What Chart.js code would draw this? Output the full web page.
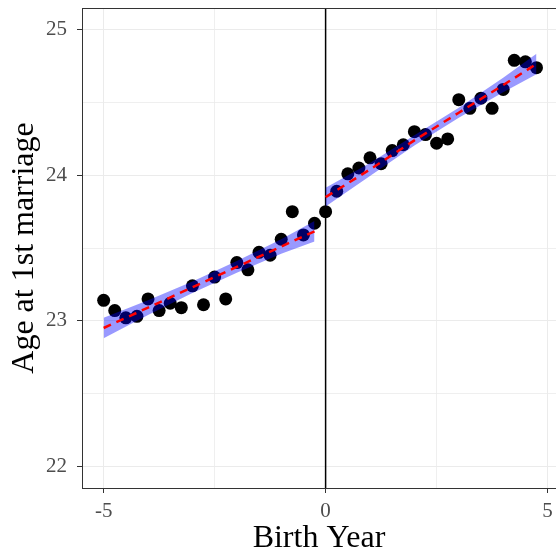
<!DOCTYPE html>
<html>
<head>
<meta charset="utf-8">
<script src="https://cdn.jsdelivr.net/npm/chart.js@4/dist/chart.umd.min.js"></script>
<style>
  html, body { margin: 0; padding: 0; background: #ffffff; }
  #wrap { width: 556px; height: 558px; }
</style>
</head>
<body>
<div id="wrap"><canvas id="c" width="556" height="558"></canvas></div>
<script>
// Birth year (relative to cutoff) and mean age at first marriage
const birthYear = [-5, -4.75, -4.5, -4.25, -4, -3.75, -3.5, -3.25, -3, -2.75,
                   -2.5, -2.25, -2, -1.75, -1.5, -1.25, -1, -0.75, -0.5, -0.25,
                   0, 0.25, 0.5, 0.75, 1, 1.25, 1.5, 1.75, 2, 2.25,
                   2.5, 2.75, 3, 3.25, 3.5, 3.75, 4, 4.25, 4.5, 4.75];
const ageAtMarriage = [23.14, 23.07, 23.02, 23.03, 23.15, 23.07, 23.12, 23.09, 23.24, 23.11,
                       23.30, 23.15, 23.40, 23.35, 23.47, 23.45, 23.56, 23.75, 23.59, 23.67,
                       23.75, 23.89, 24.01, 24.05, 24.12, 24.08, 24.17, 24.21, 24.30, 24.28,
                       24.22, 24.25, 24.52, 24.46, 24.53, 24.46, 24.59, 24.79, 24.78, 24.74];

// Fitted values and confidence band, below the cutoff
const leftX     = [-5, -4, -3, -2, -1, -0.25];
const leftFit   = [22.95, 23.09, 23.23, 23.37, 23.51, 23.615];
const leftLower = [22.88, 23.04, 23.19, 23.33, 23.46, 23.545];
const leftUpper = [23.02, 23.14, 23.27, 23.41, 23.56, 23.685];

// Fitted values and confidence band, above the cutoff
const rightX     = [0, 1, 2, 3, 4, 4.75];
const rightFit   = [23.85, 24.04, 24.24, 24.43, 24.62, 24.765];
const rightLower = [23.785, 23.995, 24.205, 24.395, 24.57, 24.695];
const rightUpper = [23.915, 24.085, 24.275, 24.465, 24.67, 24.835];

const cutoff = 0;
const xTicks = [-5, -2.5, 0, 2.5, 5];
const xLabels = ['-5', '', '0', '', '5'];
const yTicks = [22, 22.5, 23, 23.5, 24, 24.5, 25];
const yLabels = ['22', '', '23', '', '24', '', '25'];

const xMin = -5.4875, xMax = 5.19;
const yMin = 21.85, yMax = 25.15;

const pts = (xs, ys) => xs.map((x, i) => ({ x: x, y: ys[i] }));

const SERIF = '"Liberation Serif", "DejaVu Serif", serif';
const BAND = 'rgba(0,0,255,0.4)';

// Panel border along the top edge (the right edge lies outside the canvas)
const topBorder = {
  id: 'topBorder',
  afterDraw(chart) {
    const { ctx, chartArea } = chart;
    ctx.save();
    ctx.strokeStyle = '#333333';
    ctx.lineWidth = 1;
    ctx.beginPath();
    ctx.moveTo(chartArea.left, Math.round(chartArea.top) + 0.5);
    ctx.lineTo(chart.width, Math.round(chartArea.top) + 0.5);
    ctx.stroke();
    ctx.restore();
  }
};

const lineStyle = {
  showLine: true, pointRadius: 0, pointHoverRadius: 0, tension: 0
};

// Fixed axis sizes, without the extra room Chart.js reserves for edge labels
const fitX = s => { s.height = 70; s.paddingLeft = 0; s.paddingRight = 0; };
const fitY = s => { s.width = 82; s.paddingTop = 0; s.paddingBottom = 0; };

new Chart(document.getElementById('c'), {
  type: 'scatter',
  data: {
    datasets: [
      Object.assign({ label: 'fit below', data: pts(leftX, leftFit), borderColor: '#ff0000',
        borderWidth: 2.5, borderDash: [8, 6], fill: false, order: 0 }, lineStyle),
      Object.assign({ label: 'fit above', data: pts(rightX, rightFit), borderColor: '#ff0000',
        borderWidth: 2.5, borderDash: [8, 6], fill: false, order: 0 }, lineStyle),
      Object.assign({ label: 'lower below', data: pts(leftX, leftLower), borderWidth: 0,
        borderColor: 'rgba(0,0,0,0)', fill: false, order: 1 }, lineStyle),
      Object.assign({ label: 'upper below', data: pts(leftX, leftUpper), borderWidth: 0,
        borderColor: 'rgba(0,0,0,0)', backgroundColor: BAND, fill: '-1', order: 1 }, lineStyle),
      Object.assign({ label: 'lower above', data: pts(rightX, rightLower), borderWidth: 0,
        borderColor: 'rgba(0,0,0,0)', fill: false, order: 1 }, lineStyle),
      Object.assign({ label: 'upper above', data: pts(rightX, rightUpper), borderWidth: 0,
        borderColor: 'rgba(0,0,0,0)', backgroundColor: BAND, fill: '-1', order: 1 }, lineStyle),
      { label: 'binned means', data: pts(birthYear, ageAtMarriage), pointRadius: 6.5,
        pointHoverRadius: 6.5, pointBackgroundColor: '#000000', pointBorderWidth: 0,
        showLine: false, order: 2 },
      Object.assign({ label: 'cutoff', data: [{ x: cutoff, y: yMin }, { x: cutoff, y: yMax }],
        borderColor: '#000000', borderWidth: 1.5, fill: false, order: 3 }, lineStyle)
    ]
  },
  options: {
    responsive: false,
    animation: false,
    devicePixelRatio: 1,
    layout: { autoPadding: false, padding: { top: 8, right: 0, left: 0, bottom: 0 } },
    plugins: { legend: { display: false }, tooltip: { enabled: false } },
    scales: {
      x: {
        type: 'linear', min: xMin, max: xMax,
        afterBuildTicks: s => { s.ticks = xTicks.map(v => ({ value: v })); },
        afterFit: fitX,
        ticks: {
          callback: (v, i) => xLabels[i],
          font: { family: SERIF, size: 21 }, color: '#4d4d4d', padding: 6,
          maxRotation: 0, autoSkip: false
        },
        grid: {
          color: '#ebebeb',
          lineWidth: c => (c.index % 2 === 0 ? 1 : 0.8),
          tickLength: 5,
          tickColor: c => (c.index % 2 === 0 ? '#333333' : 'rgba(0,0,0,0)'),
          tickWidth: 1
        },
        border: { color: '#333333', width: 1 },
        title: { display: true, text: 'Birth Year', color: '#000000',
          font: { family: SERIF, size: 32 }, padding: { top: 0, bottom: 0 } }
      },
      y: {
        type: 'linear', min: yMin, max: yMax,
        afterBuildTicks: s => { s.ticks = yTicks.map(v => ({ value: v })); },
        afterFit: fitY,
        ticks: {
          callback: (v, i) => yLabels[i],
          font: { family: SERIF, size: 21 }, color: '#4d4d4d', padding: 10,
          autoSkip: false
        },
        grid: {
          color: '#ebebeb',
          lineWidth: c => (c.index % 2 === 0 ? 1 : 0.8),
          tickLength: 5,
          tickColor: c => (c.index % 2 === 0 ? '#333333' : 'rgba(0,0,0,0)'),
          tickWidth: 1
        },
        border: { color: '#333333', width: 1 },
        title: { display: true, text: 'Age at 1st marriage', color: '#000000',
          font: { family: SERIF, size: 32 }, padding: { top: 5, bottom: 0 } }
      }
    }
  },
  plugins: [topBorder]
});
</script>
</body>
</html>
